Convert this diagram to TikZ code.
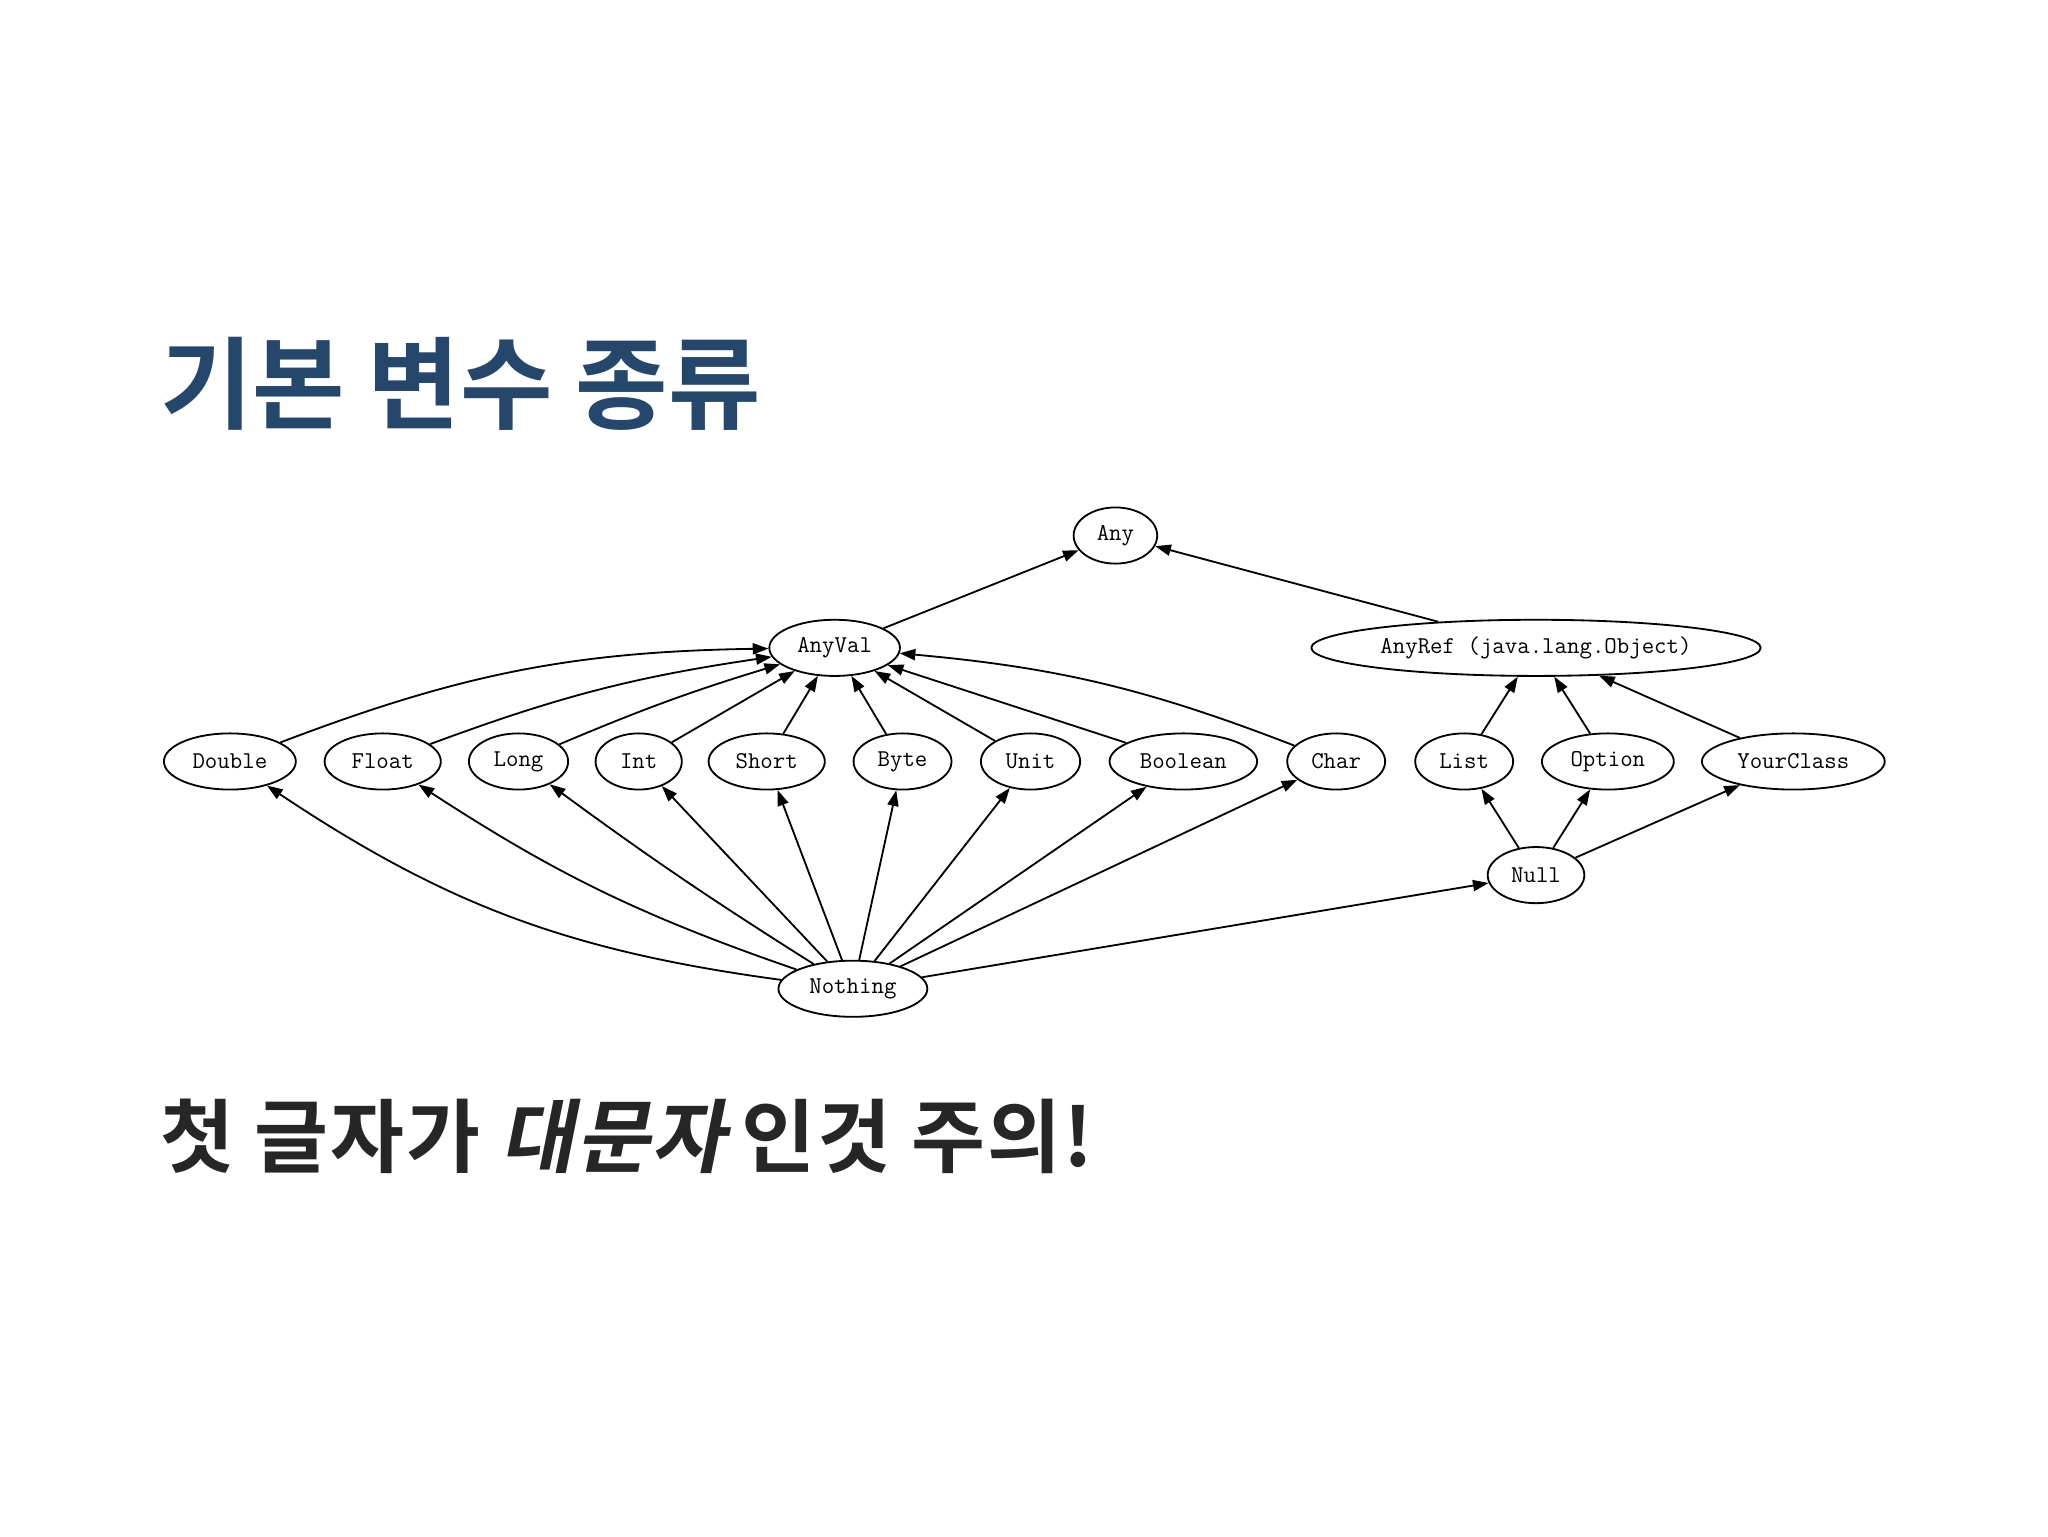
\documentclass[tikz,border=0pt]{standalone}
\usepackage{fontspec}
\newfontfamily\krfont{Noto Sans CJK KR Bold}
\newfontfamily\krnote{Noto Sans CJK KR Bold}[LetterSpace=2.5]
\newfontfamily\krslant{Noto Sans CJK KR Bold}[LetterSpace=2.5, FakeSlant=0.2]
\usetikzlibrary{shapes.geometric,arrows.meta}
\definecolor{titleblue}{RGB}{36,71,107}
\definecolor{textgray}{RGB}{38,38,38}
\tikzset{
	typ/.style={ellipse, draw, line width=1.4pt, minimum height=43pt, inner sep=0pt, font=\ttfamily\fontsize{18.5}{20}\selectfont},
	sub/.style={-{Triangle[length=12pt,width=8.5pt]}, line width=1.4pt}
}
\begin{document}
\begin{tikzpicture}[x=1pt, y=-1pt]
						\useasboundingbox (0,0) rectangle (1568,1176);
						\node[anchor=base west, text=titleblue, font=\krfont\fontsize{77}{84}\selectfont] (title) at (119,323) {기본 변수 종류};
						\node[anchor=base west, text=textgray, font=\krnote\fontsize{61.5}{66}\selectfont] (note) at (119,893) {첫 글자가 {\krslant 대문자}\/\,인것 주의!};
						\node[typ, minimum width=64pt] (Any) at (854,410) {Any};
						\node[typ, minimum width=100pt] (AnyVal) at (639,496) {AnyVal};
						\node[typ, minimum width=344pt] (AnyRef) at (1176,496) {AnyRef (java.lang.Object)};
						\foreach \n/\x/\w in {Double/176/101, Float/293/89, Long/397/76, Int/489/66, Short/587/89, Byte/691/75, Unit/789/76, Boolean/906/113, Char/1023/75, List/1121/75, Option/1231/101, YourClass/1373/140}
							\node[typ, minimum width=\w pt] (\n) at (\x,583) {\n};
						\node[typ, minimum width=74pt] (Null) at (1176,670) {Null};
						\node[typ, minimum width=114pt] (Nothing) at (653,757) {Nothing};
						\draw[sub] (AnyVal) -- (Any); \draw[sub] (AnyRef) -- (Any);
						\draw[sub] (Double) to[bend left=10] (AnyVal);
						\draw[sub] (Float) to[bend left=6] (AnyVal);
						\draw[sub] (Long) to[bend left=3] (AnyVal);
						\foreach \n in {Int,Short,Byte,Unit,Boolean} \draw[sub] (\n) -- (AnyVal);
						\draw[sub] (Char) to[bend right=8] (AnyVal);
						\foreach \n in {List,Option,YourClass} {\draw[sub] (\n) -- (AnyRef); \draw[sub] (Null) -- (\n);}
						\draw[sub] (Nothing) to[bend left=13] (Double);
						\draw[sub] (Nothing) to[bend left=7] (Float);
						\draw[sub] (Nothing) to[bend left=2] (Long);
						\foreach \n in {Int,Short,Byte,Unit,Boolean,Char,Null} \draw[sub] (Nothing) -- (\n);
					\end{tikzpicture}
\end{document}
